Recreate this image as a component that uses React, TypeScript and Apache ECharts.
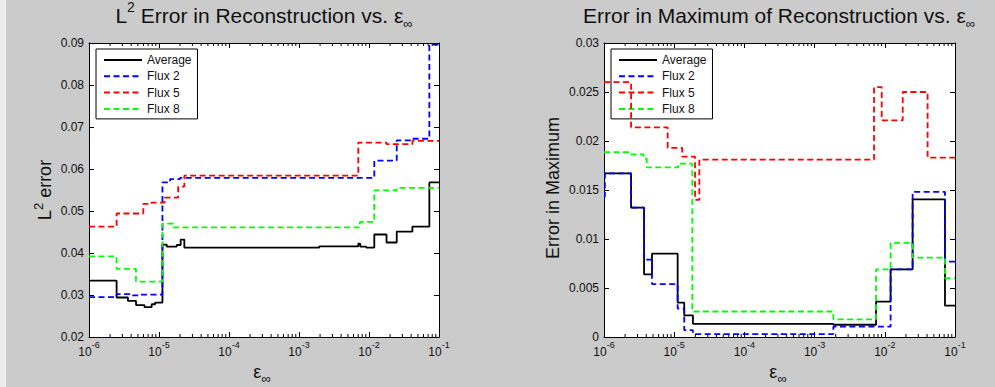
import React, { useEffect, useRef } from 'react';
import * as echarts from 'echarts';

const FONT = "'Liberation Sans', Arial, Helvetica, sans-serif";
const TXT = '#111111';

// ---- legend / series identity ----
const seriesNames = ['Average', 'Flux 2', 'Flux 5', 'Flux 8'];
const seriesColors = ['#000000', '#0000ff', '#ff0000', '#00ff00'];

// ---- axis ticks ----
const xMin = 1e-6;
const xMax = 1e-1;
const xDecadeExponents = [-6, -5, -4, -3, -2, -1];
const minorTickMultipliers = [2, 3, 4, 5, 6, 7, 8, 9];
const l2YMin = 0.02;
const l2YMax = 0.09;
const l2YStep = 0.01;
const mxYMin = 0;
const mxYMax = 0.03;
const mxYStep = 0.005;

// ---- left panel: L2 error (step-start x, value) ----
const l2AvgX = [1e-6, 2.48e-6, 3.6e-6, 4.7e-6, 6.2e-6, 7.85e-6, 8.8e-6, 1.12e-5, 1.29e-5, 1.79e-5, 2.04e-5, 2.3e-5, 1.95e-3, 7.03e-3, 7.5e-3, 9.12e-3, 1.19e-2, 1.78e-2, 2.49e-2, 4.17e-2, 7.28e-2, 1e-1];
const l2AvgY = [0.0334, 0.0294, 0.0286, 0.0276, 0.0271, 0.0278, 0.0282, 0.0420, 0.0415, 0.0419, 0.0432, 0.0413, 0.0416, 0.0422, 0.0415, 0.0413, 0.0444, 0.0425, 0.0451, 0.0463, 0.0568, 0.0568];

const l2F2X = [1e-6, 2.48e-6, 3.9e-6, 5.4e-6, 1.12e-5, 1.44e-5, 2.0e-5, 1.19e-2, 2.49e-2, 4.17e-2, 7.28e-2, 1e-1];
const l2F2Y = [0.0295, 0.0302, 0.0299, 0.0301, 0.0568, 0.0576, 0.0579, 0.0620, 0.0668, 0.0672, 0.0896, 0.0896];

const l2F5X = [1e-6, 2.48e-6, 5.97e-6, 7.85e-6, 1.2e-5, 1.88e-5, 2.3e-5, 7.03e-3, 1.78e-2, 4.17e-2, 1e-1];
const l2F5Y = [0.0463, 0.0494, 0.0517, 0.0520, 0.0532, 0.0558, 0.0584, 0.0663, 0.0659, 0.0667, 0.0667];

const l2F8X = [1e-6, 2.48e-6, 4.69e-6, 1.12e-5, 1.6e-5, 7.4e-3, 1.19e-2, 2.49e-2, 1e-1];
const l2F8Y = [0.0392, 0.0362, 0.0332, 0.0470, 0.0461, 0.0474, 0.0549, 0.0555, 0.0555];

// ---- right panel: error in maximum (step-start x, value) ----
const mxAvgX = [1e-6, 2.43e-6, 3.72e-6, 4.83e-6, 1.12e-5, 1.39e-5, 1.85e-5, 1.85e-3, 7.5e-3, 1.21e-2, 2.49e-2, 7.2e-2, 1e-1];
const mxAvgY = [0.0167, 0.0132, 0.0064, 0.0085, 0.0035, 0.0022, 0.00134, 0.00125, 0.0036, 0.0069, 0.01405, 0.0032, 0.0032];

const mxF2X = [1e-6, 1.03e-6, 2.43e-6, 3.72e-6, 4.83e-6, 1.12e-5, 1.39e-5, 1.85e-5, 1.85e-3, 1.21e-2, 2.49e-2, 7.2e-2, 1e-1];
const mxF2Y = [0.0143, 0.0167, 0.0132, 0.0079, 0.0054, 0.0029, 0.0007, 0.0003, 0.00105, 0.0069, 0.0148, 0.0077, 0.0077];

const mxF5X = [1e-6, 2.43e-6, 8.07e-6, 1.3e-5, 1.98e-5, 2.28e-5, 7.02e-3, 9.04e-3, 1.8e-2, 4.07e-2, 1e-1];
const mxF5Y = [0.0260, 0.0214, 0.0193, 0.0184, 0.0140, 0.0181, 0.0255, 0.0221, 0.0250, 0.0183, 0.0183];

const mxF8X = [1e-6, 2.43e-6, 3.65e-6, 4.06e-6, 1.14e-5, 1.81e-5, 1.85e-3, 7.5e-3, 1.21e-2, 2.49e-2, 7.2e-2, 1e-1];
const mxF8Y = [0.01885, 0.01864, 0.0182, 0.0173, 0.0177, 0.0026, 0.0018, 0.0069, 0.0096, 0.0081, 0.0060, 0.0060];

const leftData = [[l2AvgX, l2AvgY], [l2F2X, l2F2Y], [l2F5X, l2F5Y], [l2F8X, l2F8Y]];
const rightData = [[mxAvgX, mxAvgY], [mxF2X, mxF2Y], [mxF5X, mxF5Y], [mxF8X, mxF8Y]];

const minorTicks: number[] = [];
xDecadeExponents.slice(0, -1).forEach((e) => {
  minorTickMultipliers.forEach((m) => minorTicks.push(m * Math.pow(10, e)));
});

function buildOption(): any {
  const logLabel = {
    show: true,
    margin: 3,
    showMinLabel: true,
    showMaxLabel: true,
    formatter: (v: number) => `{b|10}{s|${Math.round(Math.log10(v))}}`,
    rich: {
      b: { fontSize: 12, lineHeight: 18, verticalAlign: 'bottom', fontFamily: FONT, color: TXT },
      s: { fontSize: 9, lineHeight: 9, verticalAlign: 'top', fontFamily: FONT, color: TXT },
    },
  };
  const axisLine = { show: true, onZero: false, lineStyle: { color: '#000', width: 1 } };
  const majorTick = { show: true, inside: true, length: 5, lineStyle: { color: '#000', width: 1 } };

  const xAxisFor = (grid: number, pos: 'bottom' | 'top') => ({
    gridIndex: grid,
    type: 'log',
    logBase: 10,
    min: xMin,
    max: xMax,
    position: pos,
    axisLine,
    axisTick: majorTick,
    axisLabel: pos === 'bottom' ? logLabel : { show: false },
    splitLine: { show: false },
    minorTick: { show: false },
  });

  const yAxisFor = (grid: number, pos: 'left' | 'right', min: number, max: number, step: number, fmt: (v: number) => string) => ({
    gridIndex: grid,
    type: 'value',
    min,
    max,
    interval: step,
    position: pos,
    axisLine,
    axisTick: majorTick,
    splitLine: { show: false },
    axisLabel:
      pos === 'left'
        ? { show: true, margin: 5, fontSize: 12, fontFamily: FONT, color: TXT, formatter: fmt, showMinLabel: true, showMaxLabel: true }
        : { show: false },
  });

  const fmtL2 = (v: number) => v.toFixed(2);
  const fmtMx = (v: number) => (Math.abs(v) < 1e-12 ? '0' : String(parseFloat(v.toFixed(3))));

  const lineSeries = (data: number[][][], xi: number, yi: number) =>
    data.map(([xs, ys], k) => ({
      name: seriesNames[k],
      type: 'line',
      step: 'end',
      xAxisIndex: xi,
      yAxisIndex: yi,
      symbol: 'none',
      showSymbol: false,
      silent: true,
      animation: false,
      emphasis: { disabled: true },
      data: xs.map((x, i) => [x, ys[i]]),
      lineStyle: { color: seriesColors[k], width: 1.8, type: k === 0 ? 'solid' : [6, 3.5] },
      itemStyle: { color: seriesColors[k] },
      z: 2 + k,
    }));

  const minorTickSeries = (xi: number, yi: number, yBase: number) => ({
    name: 'minor-ticks-' + xi,
    type: 'custom',
    xAxisIndex: xi,
    yAxisIndex: yi,
    silent: true,
    clip: false,
    z: 10,
    data: minorTicks.map((v) => [v, yBase]),
    renderItem: (params: any, api: any) => {
      const cs = params.coordSys;
      const px = api.coord([api.value(0), api.value(1)])[0];
      const bottom = cs.y + cs.height;
      const style = { stroke: '#000', lineWidth: 1 };
      return {
        type: 'group',
        children: [
          { type: 'line', shape: { x1: px, y1: bottom, x2: px, y2: bottom - 3 }, style },
          { type: 'line', shape: { x1: px, y1: cs.y, x2: px, y2: cs.y + 3 }, style },
        ],
      };
    },
  });

  const legendFor = (left: number) => ({
    show: true,
    data: seriesNames,
    left,
    top: 49,
    orient: 'vertical',
    selectedMode: false,
    backgroundColor: '#ffffff',
    borderColor: '#000000',
    borderWidth: 1,
    borderRadius: 0,
    padding: [5, 6, 4, 7],
    itemGap: 4.3,
    itemWidth: 38,
    itemHeight: 14,
    itemStyle: { opacity: 0 },
    textStyle: { fontSize: 12, fontFamily: FONT, color: TXT },
  });

  const titleRich = {
    t: { fontSize: 21, lineHeight: 30, verticalAlign: 'middle', fontFamily: FONT, fill: TXT },
    sup: { fontSize: 14, lineHeight: 21, verticalAlign: 'top', fontFamily: FONT, fill: TXT },
    sub: { fontSize: 13, lineHeight: 7, verticalAlign: 'bottom', fontFamily: FONT, fill: TXT },
  };
  const labelRich = {
    t: { fontSize: 18, lineHeight: 26, verticalAlign: 'middle', fontFamily: FONT, fill: TXT },
    sup: { fontSize: 13, lineHeight: 18, verticalAlign: 'top', fontFamily: FONT, fill: TXT },
    sub: { fontSize: 13, lineHeight: 9, verticalAlign: 'bottom', fontFamily: FONT, fill: TXT },
  };

  const txt = (x: number, y: number, text: string, rich: any, rotation = 0) => ({
    type: 'text',
    x,
    y,
    rotation,
    silent: true,
    style: { text, rich, align: 'center', verticalAlign: 'middle', fontFamily: FONT, fill: TXT },
  });

  return {
    animation: false,
    backgroundColor: '#cbcbcb',
    grid: [
      { left: 89, top: 43, width: 350, height: 294, show: true, backgroundColor: '#ffffff', borderWidth: 0, containLabel: false, outerBoundsMode: 'none' },
      { left: 604, top: 43, width: 351, height: 294, show: true, backgroundColor: '#ffffff', borderWidth: 0, containLabel: false, outerBoundsMode: 'none' },
    ],
    xAxis: [xAxisFor(0, 'bottom'), xAxisFor(0, 'top'), xAxisFor(1, 'bottom'), xAxisFor(1, 'top')],
    yAxis: [
      yAxisFor(0, 'left', l2YMin, l2YMax, l2YStep, fmtL2),
      yAxisFor(0, 'right', l2YMin, l2YMax, l2YStep, fmtL2),
      yAxisFor(1, 'left', mxYMin, mxYMax, mxYStep, fmtMx),
      yAxisFor(1, 'right', mxYMin, mxYMax, mxYStep, fmtMx),
    ],
    legend: [legendFor(96), legendFor(611)],
    tooltip: { show: false },
    series: [
      ...lineSeries(leftData, 0, 0),
      ...lineSeries(rightData, 2, 2),
      minorTickSeries(0, 0, l2YMin),
      minorTickSeries(2, 2, mxYMin),
    ],
    graphic: [
      { type: 'rect', silent: true, shape: { x: 0, y: 0, width: 6, height: 387 }, style: { fill: '#ececec' } },
      txt(264, 15, '{t|L}{sup|2}{t| Error in Reconstruction vs. ε}{sub|∞}', titleRich),
      txt(779, 15, '{t|Error in Maximum of Reconstruction vs. ε}{sub|∞}', titleRich),
      txt(45, 190, '{t|L}{sup|2}{t| error}', labelRich, Math.PI / 2),
      txt(553, 188, '{t|Error in Maximum}', labelRich, Math.PI / 2),
      txt(262, 372, '{t|ε}{sub|∞}', labelRich),
      txt(778, 372, '{t|ε}{sub|∞}', labelRich),
    ],
  };
}

export default function App() {
  const ref = useRef<HTMLDivElement>(null);
  useEffect(() => {
    if (!ref.current) return;
    const chart = echarts.init(ref.current, undefined, { renderer: 'svg' });
    chart.setOption(buildOption());
    return () => chart.dispose();
  }, []);
  return <div ref={ref} style={{ position: 'absolute', left: 0, top: 0, width: 995, height: 387 }} />;
}
